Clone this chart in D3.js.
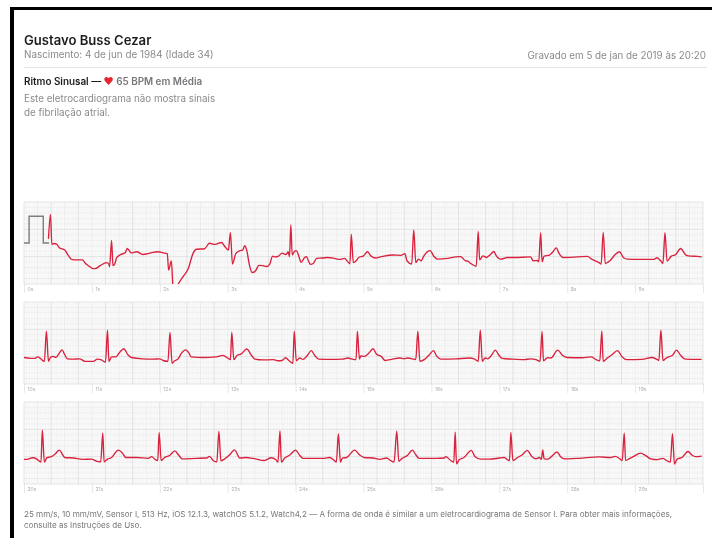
<!DOCTYPE html>
<html><head><meta charset="utf-8">
<script src="https://cdn.jsdelivr.net/npm/d3@7"></script>
<style>
html,body{margin:0;padding:0;background:#fff;overflow:hidden}
text{font-family:Inter,"Noto Sans",sans-serif}
</style></head><body><svg id="c" width="712" height="538"></svg>
<script>
const patientName = "Gustavo Buss Cezar";
const birthLine = "Nascimento: 4 de jun de 1984 (Idade 34)";
const recordedLine = "Gravado em 5 de jan de 2019 às 20:20";
const rhythmLabel = "Ritmo Sinusal — ";
const heartGlyph = "♥";
const bpmLabel = " 65 BPM em Média";
const noteLines = ["Este eletrocardiograma não mostra sinais", "de fibrilação atrial."];
const footerLines = ["25 mm/s, 10 mm/mV, Sensor I, 513 Hz, iOS 12.1.3, watchOS 5.1.2, Watch4,2 — A forma de onda é similar a um eletrocardiograma de Sensor I. Para obter mais informações,", "consulte as Instruções de Uso."];

const calibrationTimes = [0, 0.075, 0.075, 0.284, 0.284, 0.37];
const calibrationValues = [0, 0, 0.98, 0.98, 0, 0];

const strip1Times = [0.36,0.39,0.41,0.44,0.48,0.52,0.60,0.65,0.70,0.77,0.86,0.91,0.97,1.02,1.06,1.12,1.22,1.25,1.26,1.29,1.31,1.34,1.36,1.41,1.49,1.52,1.58,1.66,1.75,1.81,1.90,1.97,2.05,2.11,2.13,2.17,2.20,2.23,2.27,2.34,2.42,2.49,2.54,2.66,2.73,2.81,2.91,2.95,3.01,3.04,3.07,3.12,3.18,3.22,3.25,3.28,3.32,3.36,3.40,3.46,3.52,3.57,3.62,3.66,3.69,3.75,3.80,3.86,3.89,3.91,3.93,3.95,3.98,4.01,4.05,4.08,4.13,4.16,4.19,4.22,4.26,4.31,4.40,4.47,4.57,4.65,4.72,4.77,4.80,4.82,4.85,4.89,4.93,5.00,5.06,5.11,5.17,5.28,5.43,5.55,5.61,5.64,5.71,5.74,5.77,5.81,5.85,5.89,5.98,6.04,6.09,6.24,6.36,6.43,6.51,6.53,6.58,6.66,6.69,6.71,6.76,6.81,6.87,6.92,6.95,7.02,7.12,7.22,7.46,7.50,7.56,7.58,7.61,7.63,7.66,7.74,7.79,7.84,7.88,7.94,8.15,8.30,8.36,8.47,8.50,8.53,8.56,8.60,8.64,8.70,8.77,8.83,8.89,9.09,9.28,9.32,9.38,9.41,9.44,9.47,9.53,9.60,9.67,9.75,9.82,9.92,9.98];
const strip1Values = [0.15,1.05,-0.05,-0.02,-0.04,-0.17,-0.26,-0.44,-0.60,-0.62,-0.62,-0.76,-0.87,-0.94,-0.93,-0.83,-0.72,-0.77,-0.87,0.09,-0.83,-0.75,-0.56,-0.44,-0.36,-0.20,-0.36,-0.32,-0.42,-0.40,-0.34,-0.32,-0.36,-0.39,-0.99,-0.66,-1.79,-1.79,-1.52,-1.24,-0.93,-0.38,-0.23,-0.21,-0.01,-0.05,0.02,-0.10,-0.26,0.38,-0.77,-0.38,-0.28,-0.26,-0.10,-0.26,-0.81,-1.08,-1.05,-0.82,-0.83,-0.86,-0.77,-0.48,-0.51,-0.48,-0.37,-0.42,-0.32,-0.50,0.66,-0.44,-0.32,-0.28,-0.50,-0.71,-0.54,-0.50,-0.66,-0.78,-0.75,-0.56,-0.55,-0.53,-0.56,-0.60,-0.56,-0.69,-0.76,0.32,-0.72,-0.66,-0.53,-0.47,-0.32,-0.48,-0.55,-0.49,-0.44,-0.45,-0.39,-0.65,-0.77,0.48,-0.72,-0.59,-0.65,-0.47,-0.28,-0.50,-0.59,-0.56,-0.51,-0.50,-0.66,-0.66,-0.75,-0.85,0.42,-0.62,-0.47,-0.53,-0.42,-0.31,-0.44,-0.59,-0.53,-0.53,-0.51,-0.65,-0.64,-0.69,0.38,-0.69,-0.48,-0.44,-0.32,-0.18,-0.38,-0.53,-0.51,-0.49,-0.59,-0.72,-0.77,0.39,-0.75,-0.70,-0.62,-0.44,-0.32,-0.54,-0.59,-0.60,-0.60,-0.54,-0.66,-0.75,0.38,-0.66,-0.49,-0.42,-0.20,-0.44,-0.48,-0.49,-0.51];

const strip2Times = [10.00,10.09,10.16,10.20,10.24,10.28,10.30,10.33,10.36,10.39,10.43,10.47,10.52,10.56,10.60,10.64,10.73,10.82,10.90,11.02,11.08,11.14,11.20,11.23,11.25,11.29,11.35,11.41,11.47,11.53,11.58,11.75,11.90,12.00,12.05,12.12,12.15,12.18,12.22,12.27,12.32,12.38,12.43,12.46,12.64,12.83,12.93,13.00,13.04,13.06,13.09,13.14,13.20,13.28,13.35,13.40,13.52,13.67,13.74,13.80,13.85,13.90,13.96,13.98,14.01,14.06,14.11,14.18,14.23,14.28,14.34,14.50,14.69,14.77,14.82,14.89,14.91,14.94,14.96,15.01,15.08,15.14,15.19,15.26,15.32,15.43,15.53,15.60,15.65,15.72,15.77,15.80,15.83,15.90,15.97,16.03,16.08,16.14,16.36,16.56,16.63,16.69,16.72,16.75,16.79,16.83,16.89,16.94,16.99,17.04,17.19,17.37,17.46,17.54,17.60,17.63,17.65,17.71,17.76,17.86,17.93,18.00,18.22,18.35,18.42,18.48,18.51,18.53,18.59,18.66,18.74,18.81,18.88,19.10,19.25,19.33,19.35,19.38,19.41,19.47,19.55,19.61,19.67,19.74,19.98];
const strip2Values = [-0.53,-0.56,-0.56,-0.51,-0.56,-0.65,-0.67,0.43,-0.67,-0.53,-0.49,-0.53,-0.37,-0.25,-0.43,-0.58,-0.59,-0.58,-0.67,-0.67,-0.59,-0.62,-0.70,0.47,-0.67,-0.51,-0.51,-0.34,-0.21,-0.43,-0.53,-0.58,-0.59,-0.58,-0.64,-0.67,0.39,-0.74,-0.65,-0.58,-0.37,-0.25,-0.37,-0.51,-0.53,-0.51,-0.45,-0.55,-0.61,0.40,-0.61,-0.45,-0.40,-0.22,-0.45,-0.59,-0.62,-0.61,-0.65,-0.64,-0.54,-0.64,-0.74,0.43,-0.65,-0.55,-0.60,-0.43,-0.28,-0.45,-0.59,-0.60,-0.59,-0.55,-0.58,-0.61,0.43,-0.59,-0.47,-0.49,-0.37,-0.21,-0.40,-0.49,-0.64,-0.59,-0.55,-0.58,-0.55,-0.58,-0.61,0.43,-0.67,-0.60,-0.43,-0.28,-0.49,-0.59,-0.58,-0.55,-0.58,-0.67,0.47,-0.67,-0.55,-0.58,-0.43,-0.26,-0.43,-0.56,-0.59,-0.61,-0.58,-0.61,-0.67,0.42,-0.65,-0.54,-0.55,-0.26,-0.45,-0.53,-0.54,-0.51,-0.60,-0.65,0.44,-0.67,-0.55,-0.43,-0.28,-0.51,-0.61,-0.60,-0.53,-0.61,-0.64,0.47,-0.64,-0.53,-0.45,-0.26,-0.45,-0.59,-0.60];

const strip3Times = [20.00,20.06,20.13,20.19,20.25,20.27,20.30,20.34,20.39,20.46,20.52,20.57,20.60,20.73,20.87,20.99,21.08,21.13,21.16,21.18,21.23,21.29,21.39,21.45,21.50,21.66,21.83,21.88,21.94,21.97,21.99,22.02,22.07,22.15,22.22,22.28,22.33,22.54,22.69,22.73,22.79,22.84,22.87,22.90,22.95,23.03,23.10,23.18,23.27,23.37,23.54,23.64,23.71,23.74,23.77,23.79,23.84,23.91,24.00,24.06,24.11,24.28,24.42,24.50,24.57,24.60,24.63,24.66,24.69,24.75,24.87,24.94,25.01,25.14,25.24,25.34,25.40,25.45,25.49,25.52,25.56,25.65,25.72,25.77,25.82,26.07,26.19,26.21,26.29,26.33,26.35,26.37,26.41,26.48,26.59,26.64,26.73,26.85,27.00,27.07,27.15,27.17,27.20,27.27,27.34,27.41,27.48,27.54,27.59,27.62,27.64,27.66,27.71,27.77,27.85,27.90,27.96,28.17,28.47,28.64,28.71,28.79,28.81,28.84,28.86,28.91,28.98,29.08,29.15,29.23,29.33,29.41,29.47,29.52,29.55,29.58,29.62,29.69,29.78,29.84,29.89,29.98];
const strip3Values = [-0.60,-0.59,-0.54,-0.59,-0.70,0.47,-0.70,-0.53,-0.51,-0.40,-0.26,-0.43,-0.53,-0.55,-0.60,-0.59,-0.67,-0.69,0.37,-0.69,-0.59,-0.53,-0.26,-0.37,-0.53,-0.53,-0.56,-0.50,-0.62,-0.64,0.39,-0.64,-0.53,-0.45,-0.29,-0.45,-0.58,-0.56,-0.55,-0.49,-0.65,-0.69,0.42,-0.65,-0.59,-0.43,-0.25,-0.55,-0.53,-0.56,-0.64,-0.54,-0.61,-0.70,0.44,-0.70,-0.55,-0.45,-0.26,-0.45,-0.56,-0.56,-0.56,-0.53,-0.64,-0.70,0.34,-0.70,-0.55,-0.53,-0.26,-0.43,-0.53,-0.55,-0.60,-0.55,-0.64,-0.70,0.43,-0.67,-0.58,-0.45,-0.26,-0.43,-0.56,-0.56,-0.55,-0.50,-0.65,-0.70,0.40,-0.76,-0.61,-0.53,-0.27,-0.49,-0.59,-0.59,-0.55,-0.53,-0.65,0.39,-0.64,-0.53,-0.43,-0.27,-0.49,-0.58,-0.53,-0.60,-0.25,-0.58,-0.59,-0.49,-0.33,-0.49,-0.58,-0.56,-0.51,-0.53,-0.49,-0.61,-0.65,0.37,-0.64,-0.58,-0.49,-0.37,-0.45,-0.58,-0.61,-0.56,-0.65,-0.70,0.34,-0.77,-0.59,-0.53,-0.31,-0.45,-0.50,-0.48];

const stripStarts = [0, 10, 20];
const stripSeries = [[strip1Times, strip1Values], [strip2Times, strip2Values], [strip3Times, strip3Values]];
const stripTops = [202, 302, 402];

const W = 712, H = 538, L = 24, R = 703, SH = 82;
const svg = d3.select("#c");
const defs = svg.append("defs");
const soft = defs.append("filter").attr("id","soft").attr("x","-2%").attr("y","-5%").attr("width","104%").attr("height","110%");
soft.append("feGaussianBlur").attr("stdDeviation",0.4);

// frame
svg.append("rect").attr("x",10).attr("y",7).attr("width",W-10).attr("height",3).attr("fill","#000");
svg.append("rect").attr("x",10).attr("y",7).attr("width",4).attr("height",H-7).attr("fill","#000");

const page = svg.append("g").attr("filter","url(#soft)");
const txt = (x,y,s,size,fill,weight,anchor) => page.append("text").attr("x",x).attr("y",y).attr("font-size",size).attr("fill",fill).attr("font-weight",weight||400).attr("text-anchor",anchor||"start").text(s);

txt(24,45,patientName,13.1,"#1d1d1f",600);
txt(24,58,birthLine,9.85,"#8a8a8e");
txt(706,59,recordedLine,9.8,"#8a8a8e",400,"end");
page.append("line").attr("x1",24).attr("x2",707).attr("y1",67.5).attr("y2",67.5).attr("stroke","#e6e6e6");
const rhythm = txt(24,85,rhythmLabel,9.9,"#1d1d1f",600);
rhythm.append("tspan").attr("fill","#e5262f").text(heartGlyph);
rhythm.append("tspan").attr("fill","#77777b").text(bpmLabel);
noteLines.forEach((s,i)=>txt(24,102+i*14,s,9.8,"#8a8a8e"));
footerLines.forEach((s,i)=>txt(24,517+i*10.5,s,8.08,"#77777b"));

stripStarts.forEach((start,i)=>{
  const top = stripTops[i];
  const x = d3.scaleLinear().domain([start,start+10]).range([L,R]);
  const y = d3.scaleLinear().domain([1.5,-1.5]).range([top,top+SH]);
  const g = page.append("g");
  const vLine = (t,c) => g.append("line").attr("x1",x(t)).attr("x2",x(t)).attr("y1",top).attr("y2",top+SH).attr("stroke",c).attr("stroke-width",0.5);
  const hLine = (v,c) => g.append("line").attr("x1",L).attr("x2",R).attr("y1",y(v)).attr("y2",y(v)).attr("stroke",c).attr("stroke-width",0.5);
  d3.range(0,251).forEach(k=>{ if(k%5) vLine(start+k*0.04,"#f0f0f0"); });
  d3.range(0,76).forEach(k=>{ if(k%5) hLine(-1.5+k*0.04,"#f0f0f0"); });
  d3.range(0,51).forEach(k=>{ if(k%2) vLine(start+k*0.2,"#e0e0e0"); });
  d3.range(0,16).forEach(k=>{ if(k%5) hLine(-1.5+k*0.2,"#e0e0e0"); });
  d3.range(0,26).forEach(k=>{ vLine(start+k*0.4,"#c8c8c8"); });
  [1.5,0.5,-0.5,-1.5].forEach(v=>hLine(v,"#c8c8c8"));

  const axis = d3.axisBottom(x).tickValues(d3.range(start,start+11)).tickSize(9).tickFormat(d=>d===start+10?"":d+"s");
  const ax = g.append("g").attr("transform",`translate(0,${top+SH})`).call(axis);
  ax.select(".domain").remove();
  ax.selectAll("line").attr("stroke","#dcdcdc").attr("stroke-width",0.7);
  ax.selectAll("text").attr("text-anchor","start").attr("x",3).attr("y",3.5).attr("dy","0.71em").attr("font-size",5).attr("fill","#adadad").style("font-family","Inter,sans-serif");

  const clipId = "clip"+i;
  defs.append("clipPath").attr("id",clipId).append("rect").attr("x",L).attr("y",top).attr("width",R-L).attr("height",SH);
  const line = d3.line().x(d=>x(d[0])).y(d=>y(d[1]));
  const smooth = d3.line().curve(d3.curveMonotoneX).x(d=>x(d[0])).y(d=>y(d[1]));
  const [ts,vs] = stripSeries[i];
  if(i===0){
    page.append("path").attr("d",line(d3.zip(calibrationTimes,calibrationValues))).attr("fill","none").attr("stroke","#7d7d7d").attr("stroke-width",1.4);
  }
  page.append("path").attr("clip-path",`url(#${clipId})`).attr("d",smooth(d3.zip(ts,vs))).attr("fill","none").attr("stroke","#d9213d").attr("stroke-width",1.35).attr("stroke-linejoin","round");
});
</script></body></html>
